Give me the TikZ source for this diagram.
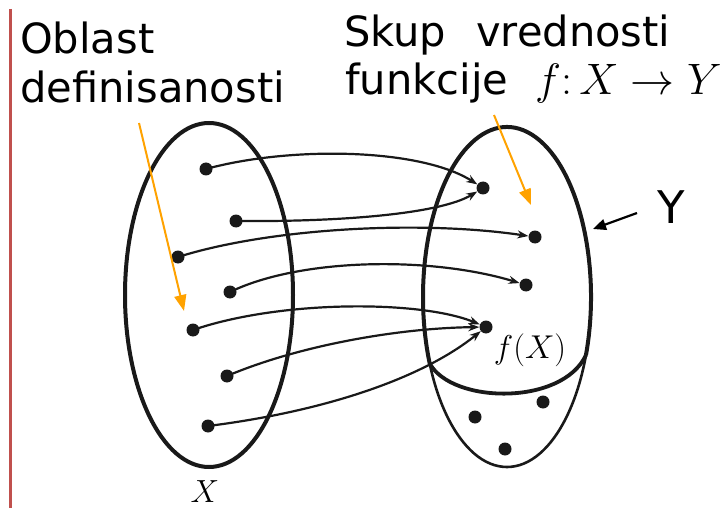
\RequirePackage{fix-cm}
\documentclass[tikz,border=0pt]{standalone}
\usepackage{fontspec}
\setmainfont{DejaVu Sans}
\usetikzlibrary{arrows.meta,shapes.geometric,calc}
\definecolor{redline}{RGB}{192,80,77}
\definecolor{orangearrow}{RGB}{255,162,0}
\tikzset{
  dot/.style={circle,fill=black!90,inner sep=0pt,minimum size=13pt},
  mapto/.style={line width=2.2pt,black!90,-{Stealth[length=11pt,width=8pt]}},
  pointer/.style={line width=2pt,orangearrow,-{Triangle[length=16pt,width=12pt]}},
  bigtxt/.style={inner sep=0pt,font=\fontsize{41.6}{48}\selectfont},
}
\begin{document}
\begin{tikzpicture}[x=1pt,y=1pt]
\useasboundingbox (0,0) rectangle (726,-508);
% red margin line
\draw[redline,line width=3pt] (10.5,-9) -- (10.5,-508);
% titles
\node[bigtxt,anchor=base west] (obl) at (20,-54) {Oblast};
\node[bigtxt,anchor=base west] (def) at (20,-103) {definisanosti};
\node[bigtxt,anchor=base west] (skup) at (344,-47) {Skup\hspace{0.72em}vrednosti};
\node[bigtxt,anchor=base west] (funk) at (345,-95) {funkcije};
\node[inner sep=0pt,anchor=base west,font=\fontsize{44}{50}\selectfont] (map) at (535,-95) {$f{:}\,X\to Y$};
% ellipses
\node[draw,black!90,line width=4pt,ellipse,minimum width=168pt,minimum height=344pt,inner sep=0pt] (EX) at (209,-295) {};
\coordinate (yc) at (507,-297);
\draw[black!90,line width=2.6pt] (yc) ellipse [x radius=84, y radius=170];
\coordinate (fl) at ($(yc)+(203:84 and 170)$);
\coordinate (fr) at ($(yc)+(-20:84 and 170)$);
\draw[black!90,line width=4pt] (fr) arc[start angle=-20,end angle=203,x radius=84,y radius=170];
\draw[black!90,line width=3.8pt,line cap=round] (fl) .. controls (452,-404) and (562,-406) .. (fr);
% labels
\node[inner sep=0pt,font=\fontsize{32}{36}\selectfont] (lx) at (205,-492) {$X$};
\node[inner sep=0pt,font=\fontsize{33}{38}\selectfont] (lfx) at (530,-350) {$f(X)$};
\node[inner sep=0pt,anchor=base,font=\fontsize{45}{50}\selectfont] (ly) at (671,-223) {Y};
% left dots
\node[dot] (d1) at (206,-169) {};
\node[dot] (d2) at (236,-221) {};
\node[dot] (d3) at (178,-257) {};
\node[dot] (d4) at (230,-292) {};
\node[dot] (d5) at (193,-330) {};
\node[dot] (d6) at (227,-376) {};
\node[dot] (d7) at (208,-426) {};
% right dots
\node[dot] (r1) at (483,-188) {};
\node[dot] (r2) at (535,-237) {};
\node[dot] (r3) at (526,-285) {};
\node[dot] (r4) at (486,-327) {};
\node[dot] (r5) at (475,-417) {};
\node[dot] (r6) at (543,-402) {};
\node[dot] (r7) at (505,-449) {};
% mapping arrows
\draw[mapto] (d1.center) .. controls (290,-146) and (420,-148) .. (r1);
\draw[mapto] (d2.center) .. controls (340,-222) and (440,-214) .. (r1);
\draw[mapto] (d3.center) .. controls (270,-228) and (420,-220) .. (r2);
\draw[mapto] (d4.center) .. controls (300,-258) and (430,-256) .. (r3);
\draw[mapto] (d5.center) .. controls (280,-300) and (420,-300) .. (r4);
\draw[mapto] (d6.center) .. controls (300,-345) and (400,-328) .. (r4);
\draw[mapto] (d7.center) .. controls (320,-412) and (420,-380) .. (r4);
% orange pointers
\coordinate (o1s) at (139,-123);
\coordinate (o1e) at (184,-311);
\coordinate (o2s) at (494,-115);
\coordinate (o2e) at (531,-205);
\draw[pointer] (o1s) -- (o1e);
\draw[pointer] (o2s) -- (o2e);
% Y pointer
\coordinate (ys) at (637,-213);
\coordinate (ye) at (593,-229);
\draw[line width=2.2pt,black,-{Triangle[length=13pt,width=11pt]}] (ys) -- (ye);
\end{tikzpicture}
\end{document}
